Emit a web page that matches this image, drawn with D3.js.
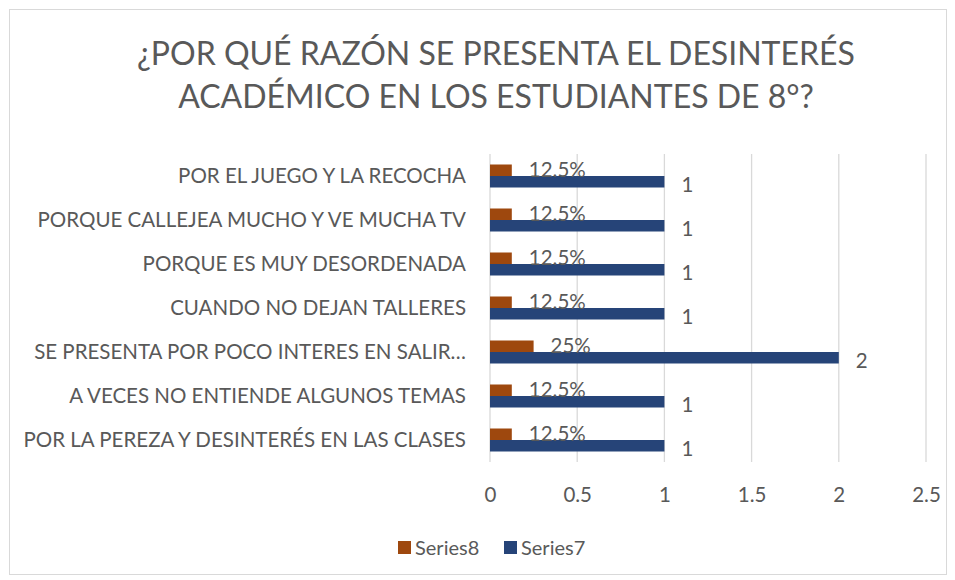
<!DOCTYPE html>
<html>
<head>
<meta charset="utf-8">
<title>Desinterés académico</title>
<script src="https://cdn.jsdelivr.net/npm/d3@7"></script>
<style>
  body { margin: 0; background: #fff; }
  svg text { font-family: Lato, "Open Sans", sans-serif; fill: #595959; }
</style>
</head>
<body>
<script>
  // data, top to bottom as drawn
  var categories = [
    "POR EL JUEGO Y LA RECOCHA",
    "PORQUE CALLEJEA MUCHO Y VE MUCHA TV",
    "PORQUE ES MUY DESORDENADA",
    "CUANDO NO DEJAN TALLERES",
    "SE PRESENTA POR POCO INTERES EN SALIR…",
    "A VECES NO ENTIENDE ALGUNOS TEMAS",
    "POR LA PEREZA Y DESINTERÉS EN LAS CLASES"
  ];
  var series7 = [1, 1, 1, 1, 2, 1, 1];
  var series8 = [0.125, 0.125, 0.125, 0.125, 0.25, 0.125, 0.125];
  var xTicks = [0, 0.5, 1, 1.5, 2, 2.5];
  var titleLines = ["¿POR QUÉ RAZÓN SE PRESENTA EL DESINTERÉS", "ACADÉMICO EN LOS ESTUDIANTES DE 8°?"];

  var w = 955, h = 580;
  var colBlue = "#264478", colOrange = "#9e480e";

  var svg = d3.select("body").append("svg").attr("width", w).attr("height", h);

  svg.append("rect")
    .attr("x", 9.5).attr("y", 9.5).attr("width", 937).attr("height", 565)
    .attr("fill", "#fff").attr("stroke", "#d9d9d9");

  svg.selectAll("text.title").data(titleLines).enter().append("text")
    .attr("class", "title")
    .attr("x", 496).attr("y", function (d, i) { return 65 + i * 43; })
    .attr("text-anchor", "middle")
    .style("font-size", "32px")
    .text(function (d) { return d; });

  var x = d3.scaleLinear().domain([0, 2.5]).range([490, 926]);
  var y = d3.scaleBand().domain(categories).range([154, 462]);
  var inner = d3.scaleBand().domain(["s8", "s7"]).range([0, 23]);
  var bandOff = (y.bandwidth() - 23) / 2;

  // gridlines
  svg.append("g").selectAll("line").data(xTicks).enter().append("line")
    .attr("x1", function (d) { return x(d); }).attr("x2", function (d) { return x(d); })
    .attr("y1", 154).attr("y2", 462)
    .attr("stroke", "#d9d9d9").attr("stroke-width", 1.3);

  var xAxis = d3.axisBottom(x).tickValues(xTicks).tickSize(0).tickPadding(0)
    .tickFormat(function (d) { return String(d); });
  var gx = svg.append("g").attr("transform", "translate(0,487)").call(xAxis);
  gx.select(".domain").remove();
  gx.selectAll("text").attr("dy", "0.72em").style("font-size", "20.5px").attr("fill", "#595959");

  var yAxis = d3.axisLeft(y).tickSize(0).tickPadding(0);
  var gy = svg.append("g").attr("transform", "translate(466,0)").call(yAxis);
  gy.select(".domain").remove();
  gy.selectAll("text").style("font-size", "20.5px").attr("fill", "#595959");

  var rows = svg.append("g").selectAll("g").data(categories).enter().append("g")
    .attr("transform", function (d) { return "translate(0," + (y(d) + bandOff) + ")"; });

  rows.append("rect")
    .attr("x", x(0)).attr("y", inner("s8"))
    .attr("width", function (d, i) { return x(series8[i]) - x(0); })
    .attr("height", inner.bandwidth())
    .attr("fill", colOrange);

  rows.append("rect")
    .attr("x", x(0)).attr("y", inner("s7"))
    .attr("width", function (d, i) { return x(series7[i]) - x(0); })
    .attr("height", inner.bandwidth())
    .attr("fill", colBlue);

  rows.append("text")
    .attr("x", function (d, i) { return x(series8[i]) + 17; })
    .attr("y", inner("s8") + inner.bandwidth() / 2)
    .attr("dy", "0.35em")
    .style("font-size", "20.5px")
    .text(function (d, i) { return (series8[i] * 100) + "%"; });

  rows.append("text")
    .attr("x", function (d, i) { return x(series7[i]) + 17; })
    .attr("y", inner("s7") + inner.bandwidth() / 2 + 3)
    .attr("dy", "0.35em")
    .style("font-size", "20.5px")
    .text(function (d, i) { return series7[i]; });

  // legend
  var legend = [
    { name: "Series8", color: colOrange, x: 398 },
    { name: "Series7", color: colBlue, x: 504 }
  ];
  var lg = svg.append("g").selectAll("g").data(legend).enter().append("g")
    .attr("transform", function (d) { return "translate(" + d.x + ",541)"; });
  lg.append("rect").attr("width", 13).attr("height", 13).attr("fill", function (d) { return d.color; });
  lg.append("text").attr("x", 17).attr("y", 7).attr("dy", "0.35em")
    .style("font-size", "20px").text(function (d) { return d.name; });
</script>
</body>
</html>
